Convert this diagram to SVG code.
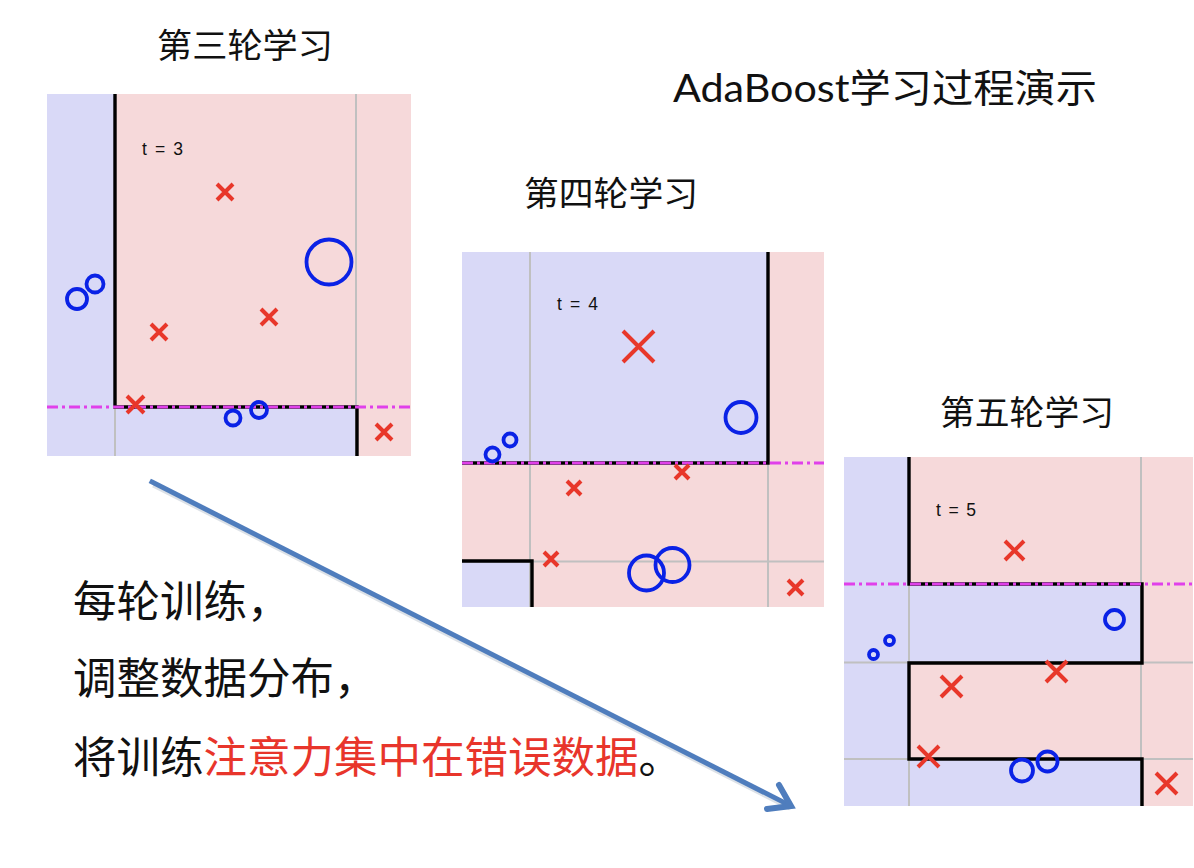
<svg xmlns="http://www.w3.org/2000/svg" width="1194" height="868" viewBox="0 0 1194 868">
<style>
.bl{fill:#d9d9f7}
.pk{fill:#f6d9da}
.gr{stroke:#c0c0c0;stroke-width:2;fill:none}
.bd{stroke:#000;stroke-width:3.4;fill:none;stroke-linejoin:miter}
.mg{stroke:#e040ea;stroke-width:3;fill:none;stroke-dasharray:11 4 3 4}
.x{stroke:#e8372a;stroke-width:4;fill:none}
.o{stroke:#0a22e6;stroke-width:3.8;fill:none}
.t{font-family:"Liberation Sans",Arial,sans-serif;font-size:17.5px;fill:#111}
.ttl{font-family:"Liberation Serif","Noto Sans CJK SC",serif;font-size:34px;fill:#111}
.body{font-family:"Liberation Serif","Noto Sans CJK SC",serif;font-size:43.5px;fill:#111}
.red{fill:#e8352b}
</style>
<rect width="1194" height="868" fill="#fff"/>

<g id="title-main">
<text x="673" y="102" font-family="Lato,'Noto Sans CJK SC',sans-serif" font-size="39" fill="#111" textLength="424" lengthAdjust="spacingAndGlyphs">AdaBoost学习过程演示</text>
</g>

<g id="panel3-title"><text class="ttl" x="157" y="58" textLength="176" lengthAdjust="spacingAndGlyphs">第三轮学习</text></g>
<g id="panel4-title"><text class="ttl" x="524" y="206" textLength="174" lengthAdjust="spacingAndGlyphs">第四轮学习</text></g>
<g id="panel5-title"><text class="ttl" x="940" y="425" textLength="174" lengthAdjust="spacingAndGlyphs">第五轮学习</text></g>

<g id="panel-t3">
<rect class="bl" x="47" y="94" width="68" height="362"/>
<rect class="pk" x="115" y="94" width="296" height="313"/>
<rect class="bl" x="115" y="407" width="242" height="49"/>
<rect class="pk" x="357" y="407" width="54" height="49"/>
<path class="gr" d="M115,94 V456 M356,94 V456"/>
<path class="bd" d="M115,94 V407 H357 V456"/>
<path class="mg" d="M47,407 H411"/>
<text class="t" x="142" y="155" textLength="41" lengthAdjust="spacing">t = 3</text>
<path class="x" d="M217,184 l16,16 M217,200 l16,-16"/>
<path class="x" d="M151,324 l16,16 M151,340 l16,-16"/>
<path class="x" d="M261,309 l16,16 M261,325 l16,-16"/>
<path class="x" d="M127,396 l17,17 M127,413 l17,-17"/>
<path class="x" d="M376,424 l16,16 M376,440 l16,-16"/>
<circle class="o" cx="329" cy="262" r="22.5"/>
<circle class="o" cx="77" cy="299" r="10"/>
<circle class="o" cx="95" cy="284" r="8.5"/>
<circle class="o" cx="233" cy="418" r="7.5"/>
<circle class="o" cx="259" cy="410" r="8"/>
</g>

<g id="panel-t4">
<rect class="bl" x="462" y="252" width="306" height="211"/>
<rect class="pk" x="768" y="252" width="56" height="211"/>
<rect class="pk" x="462" y="463" width="362" height="144"/>
<rect class="bl" x="462" y="561" width="70" height="46"/>
<path class="gr" d="M530,252 V607 M768,252 V607 M462,561.5 H824"/>
<path class="bd" d="M768,252 V463 H462 M462,561 H532 V607"/>
<path class="mg" d="M462,463 H824"/>
<text class="t" x="557" y="310" textLength="41" lengthAdjust="spacing">t = 4</text>
<path class="x" d="M623,331 l31,31 M623,362 l31,-31"/>
<path class="x" d="M567,481 l14,14 M567,495 l14,-14"/>
<path class="x" d="M675,465 l14,14 M675,479 l14,-14"/>
<path class="x" d="M544,552 l14,14 M544,566 l14,-14"/>
<path class="x" d="M788,580 l15,15 M788,595 l15,-15"/>
<circle class="o" cx="741" cy="417.5" r="15.5"/>
<circle class="o" cx="492.5" cy="454.5" r="7"/>
<circle class="o" cx="510" cy="440" r="6.5"/>
<circle class="o" cx="646.5" cy="573" r="17.5"/>
<circle class="o" cx="672.5" cy="565" r="17"/>
</g>

<g id="panel-t5">
<rect class="bl" x="844" y="457" width="65" height="349"/>
<rect class="pk" x="909" y="457" width="284" height="127"/>
<rect class="pk" x="1142" y="584" width="51" height="222"/>
<rect class="bl" x="909" y="584" width="233" height="79"/>
<rect class="pk" x="909" y="663" width="233" height="96"/>
<rect class="bl" x="909" y="759" width="233" height="47"/>
<path class="gr" d="M909,457 V806 M1141,457 V806 M844,662.5 H1193 M844,759 H1193"/>
<path class="bd" d="M909,457 V584 H1142 V663 H909 V759 H1142 V806"/>
<path class="mg" d="M844,584 H1193"/>
<text class="t" x="936" y="516" textLength="40" lengthAdjust="spacing">t = 5</text>
<path class="x" d="M1005,541 l19,19 M1005,560 l19,-19"/>
<path class="x" d="M941,676 l21,21 M941,697 l21,-21"/>
<path class="x" d="M1046,661 l21,21 M1046,682 l21,-21"/>
<path class="x" d="M918,746 l21,21 M918,767 l21,-21"/>
<path class="x" d="M1156,773 l21,21 M1156,794 l21,-21"/>
<circle class="o" cx="1114.5" cy="619.5" r="9.5"/>
<circle class="o" cx="873.5" cy="654.5" r="4.5"/>
<circle class="o" cx="889.5" cy="640.5" r="4.5"/>
<circle class="o" cx="1022" cy="770.5" r="11"/>
<circle class="o" cx="1047.5" cy="761.5" r="10"/>
</g>

<g id="caption">
<text class="body" x="73" y="617">每轮训练，</text>
<text class="body" x="73" y="694">调整数据分布，</text>
<text class="body" x="73" y="773">将训练<tspan class="red">注意力集中在错误数据</tspan>。</text>
</g>

<g id="connectors">
<path d="M152,482 L789,805" stroke="#9aa8bb" stroke-width="6" fill="none" opacity="0.35" transform="translate(1.5,2.5)"/>
<path d="M152,482 L789,805" stroke="#4f7dbd" stroke-width="5" stroke-linecap="square" fill="none"/>
<path d="M779,785 L791,806 L767,809" stroke="#4f7dbd" stroke-width="6" stroke-linejoin="miter" stroke-linecap="round" fill="none"/>
</g>
</svg>
